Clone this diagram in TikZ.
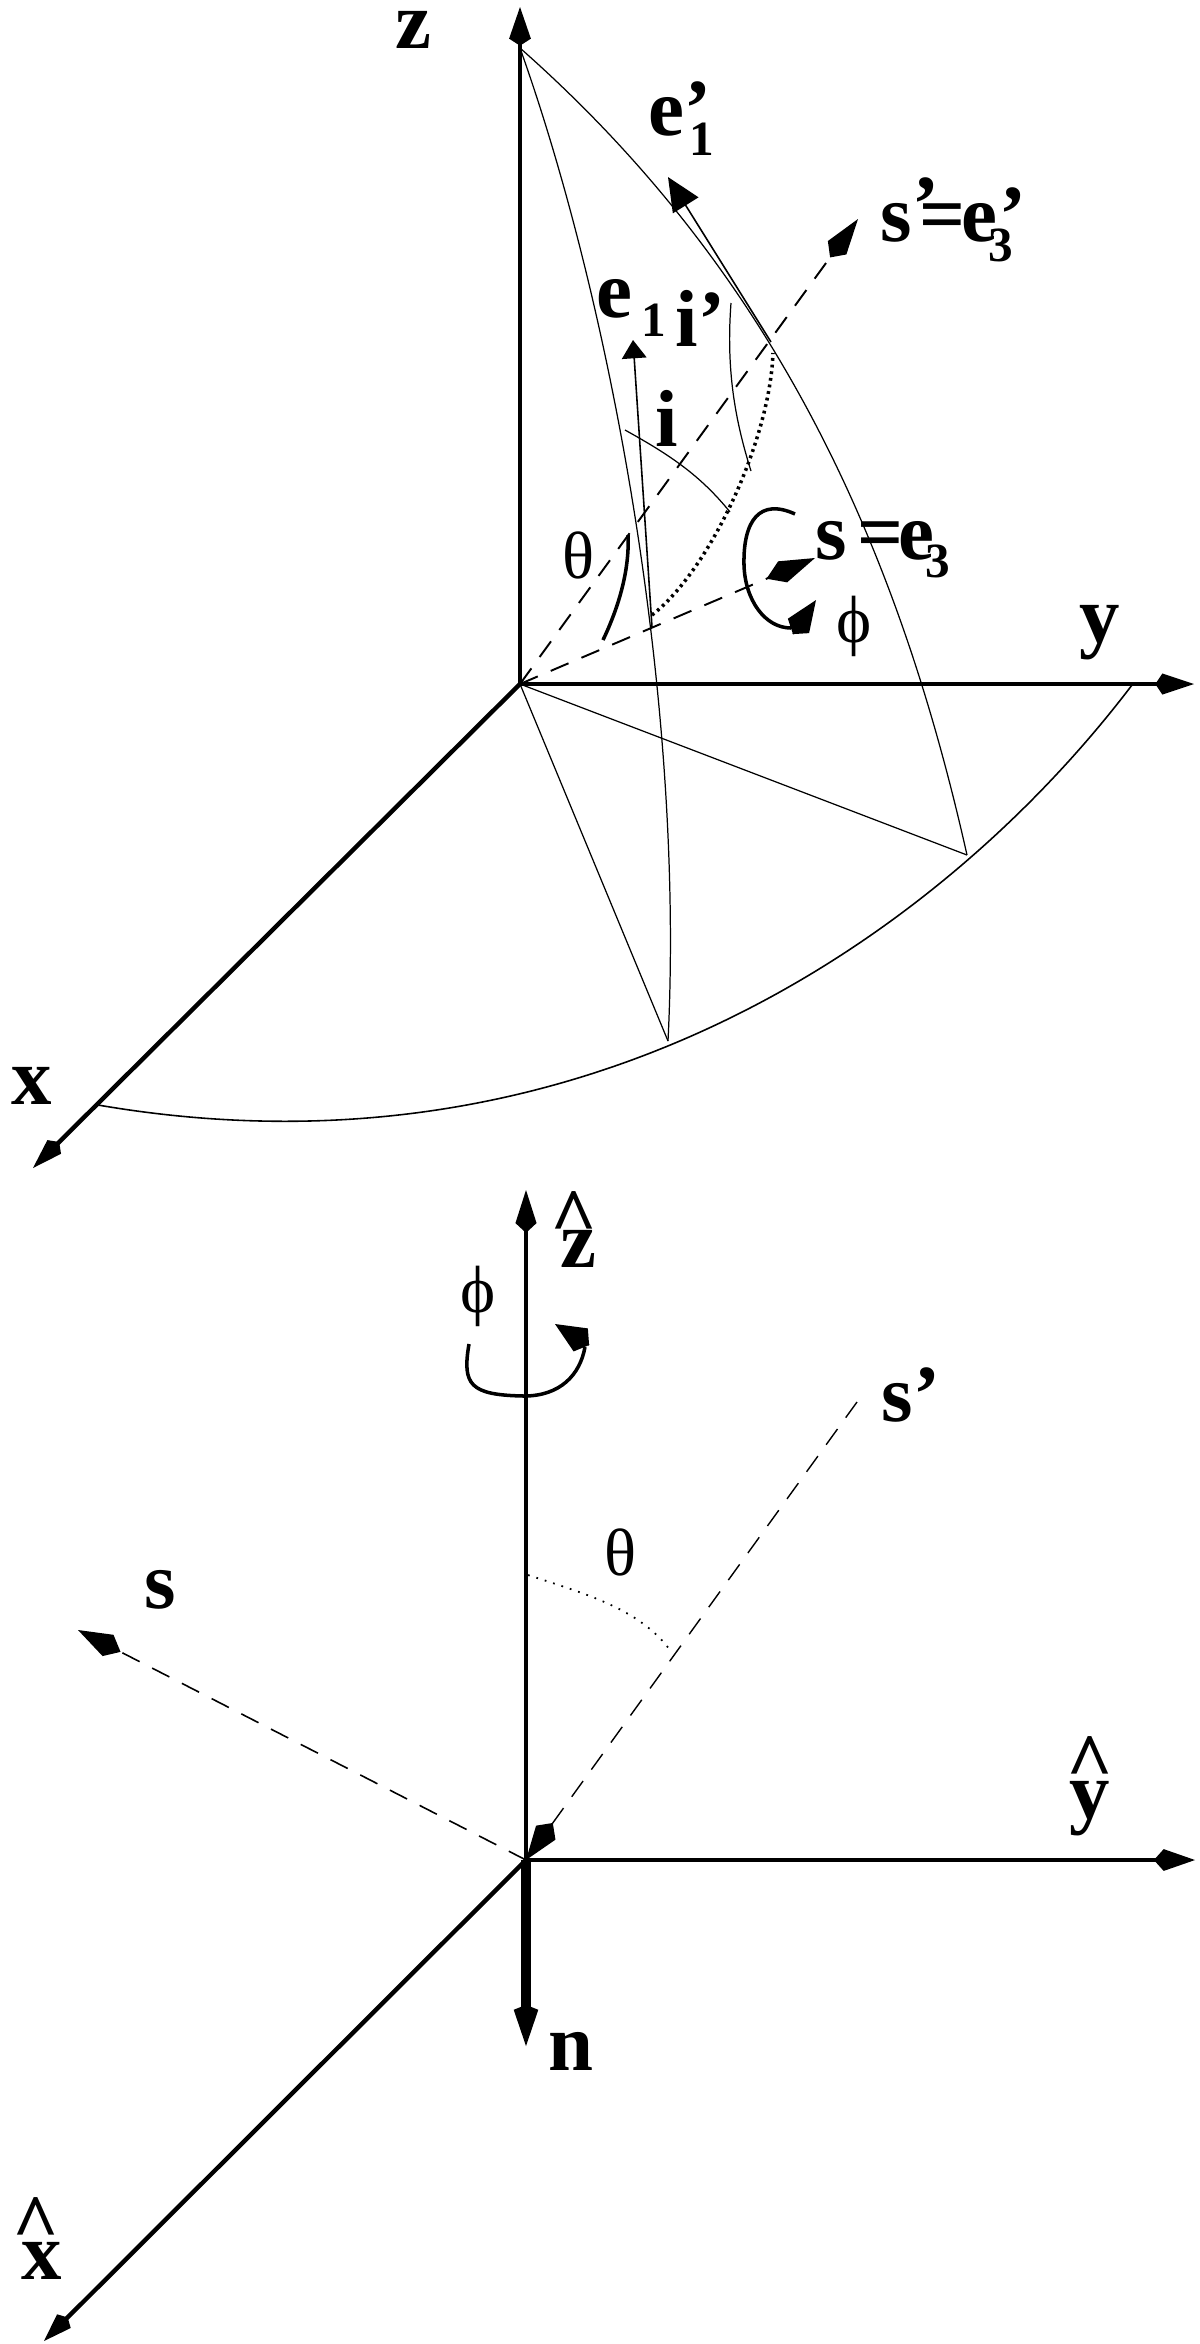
\documentclass[tikz,border=0pt]{standalone}
\usepackage{fontspec}
\setmainfont{Liberation Serif}
\usepackage{tikz}
\usetikzlibrary{arrows.meta}
\newcommand{\lowdigit}[3]{\hspace{#1pt}\raisebox{#2pt}{\fontsize{14}{16}\selectfont #3}}
\newcommand{\hatted}[3][0pt]{\ooalign{\hfil\hspace{#1}\raisebox{#2}{\textasciicircum}\hfil\cr\hfil #3\hfil\cr}}

\begin{document}
\begin{tikzpicture}[x=0.01cm, y=-0.01cm,
  lab/.style = {font=\fontsize{23}{27}\selectfont\bfseries, inner sep=0pt, anchor=base},
  labl/.style = {lab, anchor=base west},
  greek/.style = {font=\fontsize{19}{22}\selectfont, inner sep=0pt, anchor=base},
  head/.style n args = {3}{-{Kite[length=#1pt, width=#2pt, inset=#3pt]}},
  axisline/.style = {line width=1.25pt},
  thinline/.style = {line width=0.35pt},
  dashline/.style = {line width=0.55pt, dash pattern=on 5.5pt off 4pt},
  turnline/.style = {line width=1pt}]
\useasboundingbox (0,0) rectangle (1200,2344);

\coordinate (o) at (520,684);
\coordinate (ztip) at (520,7);
\coordinate (ytip) at (1194,684);
\coordinate (xtip) at (33,1168);
\coordinate (ztop) at (520,48);
\coordinate (foot1) at (967,855);
\coordinate (foot2) at (668,1041);
\coordinate (arcx) at (98,1105);
\coordinate (arcy) at (1132,685);
\coordinate (stip) at (815,558);
\coordinate (sptip) at (858,219);
\coordinate (e1tip) at (633,340);
\coordinate (e1end) at (652,627);
\coordinate (eptip) at (668,177);
\coordinate (epend) at (771,342);
\coordinate (dotin) at (652,615);
\coordinate (dotout) at (773,353);
\coordinate (iin) at (625,430);
\coordinate (iout) at (730,512);
\coordinate (ipin) at (731,303);
\coordinate (ipout) at (751,471);
\coordinate (phb) at (793,634);
\coordinate (pht) at (816,600);

\node[lab] (zl) at (413,48) {z};
\node[lab] (yl) at (1100,642) {y};
\node[lab] (xl) at (32,1104) {x};
\node[labl] (ep) at (648,135) {e’\lowdigit{-6.4}{-5.7}{1}};
\node[labl] (e1) at (596,317) {e\lowdigit{2.4}{-5.4}{1}};
\node[labl] (ipl) at (675,346) {i’};
\node[labl] (il) at (655,446) {i};
\node[labl] (sl) at (815,559) {s\hspace{3pt}=\hspace{-1.4pt}e\lowdigit{-2.6}{-5.3}{3}};
\node[labl] (spl) at (880,241) {s\raisebox{2.6pt}{’}\hspace{-5.7pt}=\hspace{-1.1pt}e\lowdigit{-2.4}{-5.7}{3}\hspace{-4pt}’};
\node[greek] (th) at (579,578) {θ};
\node[greek] (ph) at (854,642) {ϕ};

\draw[axisline, head={11}{6.2}{2}] (o) -- (ztip);
\draw[axisline, head={11}{6}{2}] (o) -- (ytip);
\draw[axisline, head={10.5}{5.5}{2}] (o) -- (xtip);

\draw[thinline] (ztop) .. controls (610,300) and (685,700) .. (foot2);
\draw[thinline] (ztop) .. controls (760,260) and (892,520) .. (foot1);
\draw[thinline] (o) -- (foot1);
\draw[thinline] (o) -- (foot2);
\draw[line width=0.45pt] (arcx) .. controls (592,1190) and (949,926) .. (arcy);

\draw[dashline, head={13.5}{6.5}{3.4}] (o) -- (sptip);
\draw[dashline, head={15}{6.5}{5}] (o) -- (stip);
\draw[line width=0.45pt, -{Triangle[length=5.2pt, width=7pt]}] (e1end) -- (e1tip);
\draw[line width=0.45pt, -{Triangle[length=9.5pt, width=8.5pt]}] (epend) -- (eptip);
\draw[line width=1pt, dash pattern=on 0.8pt off 1.1pt] (dotin) .. controls (710,570) and (770,440) .. (dotout);
\draw[thinline] (iin) .. controls (670,455) and (700,475) .. (iout);
\draw[thinline] (ipin) .. controls (726,370) and (735,420) .. (ipout);
\draw[turnline] (628,535) .. controls (630,575) and (615,615) .. (603,640);
\draw[turnline] (795,514) .. controls (760,498) and (743,520) .. (744,565) .. controls (745,600) and (765,628) .. (791,628);
\draw[head={11.7}{7.3}{2.8}] (phb) -- (pht);

\coordinate (o2) at (526,1860);
\coordinate (z2tip) at (526,1190);
\coordinate (y2tip) at (1195,1860);
\coordinate (x2tip) at (44,2341);
\coordinate (ntip) at (526,2046);
\coordinate (s2tip) at (78,1630);
\coordinate (sp2end) at (857,1402);
\coordinate (thin) at (528,1575);
\coordinate (thout) at (670,1650);
\coordinate (ph2b) at (589,1345);
\coordinate (ph2t) at (555,1324);

\node[lab] (z2l) at (578,1267) {\hatted[-2.3pt]{6.3pt}{z}};
\node[lab] (y2l) at (1090,1818) {\hatted{8pt}{y}};
\node[lab] (x2l) at (42,2279) {\hatted[-3.4pt]{8pt}{x}};
\node[lab] (nl) at (571,2070) {n};
\node[lab] (s2l) at (160,1608) {s};
\node[labl] (sp2l) at (881,1421) {s’};
\node[greek] (th2) at (620,1575) {θ};
\node[greek] (ph2) at (478,1312) {ϕ};

\draw[axisline, head={12.2}{6}{2.8}] (o2) -- (z2tip);
\draw[axisline, head={11.7}{6.2}{2.8}] (o2) -- (y2tip);
\draw[axisline, head={9.5}{5.5}{1.5}] (o2) -- (x2tip);
\draw[line width=2.8pt, head={11.7}{7}{1.4}] (o2) -- (ntip);

\draw[line width=0.4pt, dash pattern=on 5.5pt off 4pt, {Kite[length=13pt, width=6.8pt, inset=3.4pt]}-] (o2) -- (sp2end);
\draw[dashline, line width=0.45pt, head={13.6}{6.8}{4}] (o2) -- (s2tip);
\draw[line width=0.5pt, dotted] (thin) .. controls (590,1595) and (640,1610) .. (thout);
\draw[turnline] (469,1344) .. controls (462,1385) and (470,1395) .. (524,1396) .. controls (560,1396) and (580,1375) .. (585,1347);
\draw[head={11.4}{7.7}{2.8}] (ph2b) -- (ph2t);
\end{tikzpicture}
\end{document}
